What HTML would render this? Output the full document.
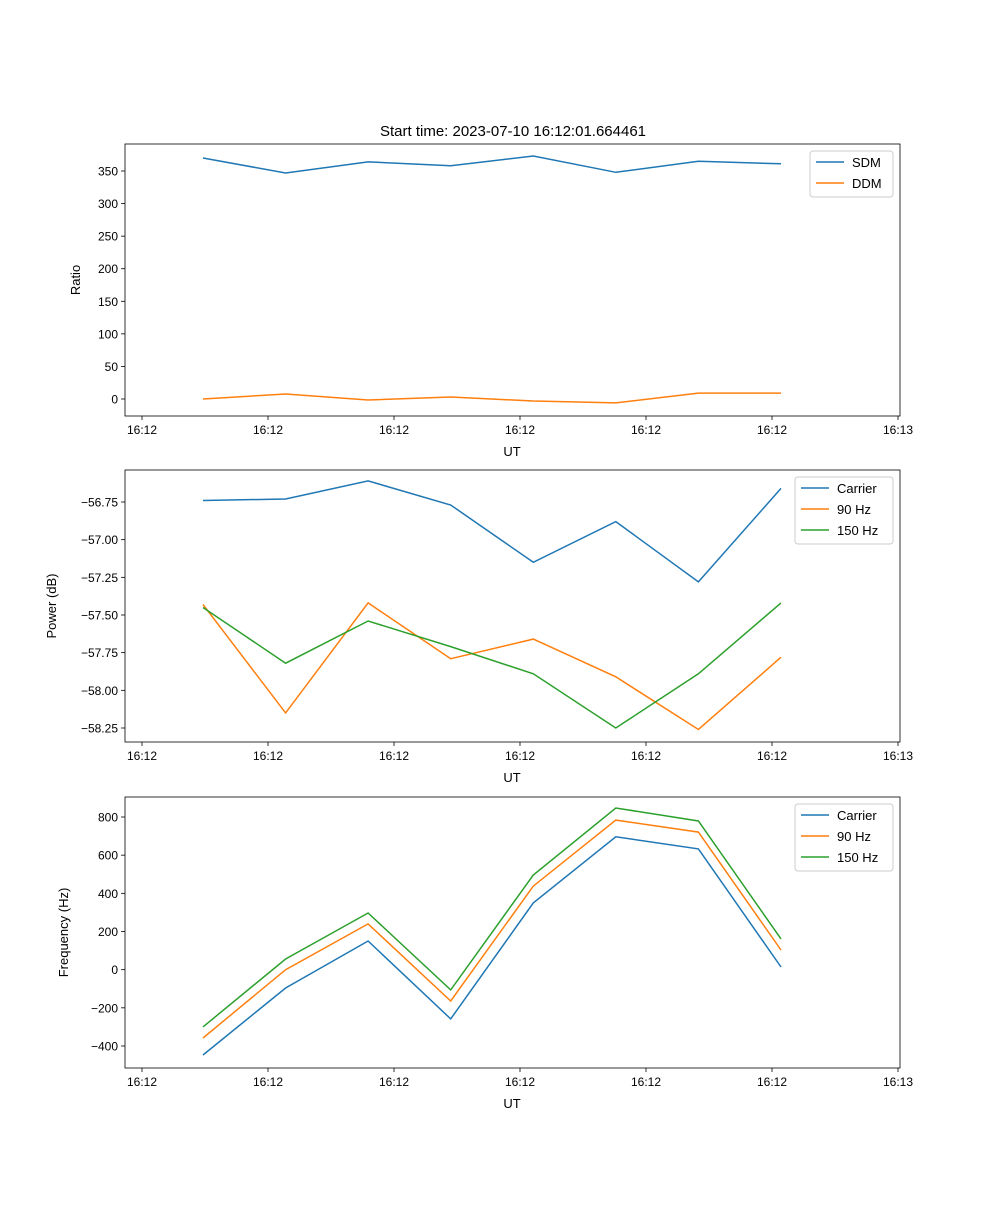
<!DOCTYPE html>
<html><head><meta charset="utf-8"><style>
body{margin:0;background:#fff}
svg{font-family:"Liberation Sans","DejaVu Sans",sans-serif}
</style></head><body>
<svg id="fig" width="1000" height="1200" xmlns="http://www.w3.org/2000/svg">
<text x="513" y="136" font-size="15" text-anchor="middle">Start time: 2023-07-10 16:12:01.664461</text>
</svg>
<script>
const xTickLabels=["16:12","16:12","16:12","16:12","16:12","16:12","16:13"];
const sdm=[370,347,364,358,373,348,365,361];
const ddm=[0,7.7,-1.5,3,-3,-6,9,9];
const pCarrier=[-56.74,-56.73,-56.61,-56.77,-57.15,-56.88,-57.28,-56.66];
const p90=[-57.43,-58.15,-57.42,-57.79,-57.66,-57.91,-58.26,-57.78];
const p150=[-57.45,-57.82,-57.54,-57.71,-57.89,-58.25,-57.89,-57.42];
const fCarrier=[-447,-96,150,-258,350,696,633,14];
const f90=[-358,0,240,-164,438,784,721,103];
const f150=[-300,56,297,-106,496,847,779,161];
const ticks1=[0,50,100,150,200,250,300,350];
const ticks2=[-56.75,-57.00,-57.25,-57.50,-57.75,-58.00,-58.25];
const ticks3=[-400,-200,0,200,400,600,800];
const C=['#1f77b4','#ff7f0e','#2ca02c'];
const svg=document.getElementById('fig');
const NS='http://www.w3.org/2000/svg';
function el(t,a,p){const e=document.createElementNS(NS,t);for(const k in a)e.setAttribute(k,a[k]);(p||svg).appendChild(e);return e;}
function xs(i){return 203+i*82.57;}
function xTick(j){return 142+j*126;}
function panel(name,top,bot,yv0,yp0,yv1,yp1,ticks,fmt,ylabel,series,labels,legW){
  const ys=v=>yp0+(v-yv0)*(yp1-yp0)/(yv1-yv0);
  const g=el('g',{},svg);
  
  
  series.forEach((s,k)=>{
    const pts=s.map((v,i)=>xs(i).toFixed(1)+','+ys(v).toFixed(1)).join(' ');
    const l=el('polyline',{points:pts,fill:'none',stroke:C[k],'stroke-width':1.5},g);
    
    
  });
  const r=el('rect',{x:125,y:top,width:775,height:bot-top,fill:'none',stroke:'#000','stroke-width':0.8},g);
  
  
  xTickLabels.forEach((t,j)=>{
    const x=xTick(j);
    el('line',{x1:x,x2:x,y1:bot,y2:bot+4,stroke:'#000','stroke-width':0.8},g);
    const tx=el('text',{x:x,y:bot+18,'font-size':12,'text-anchor':'middle'},g);tx.textContent=t;
    
    
  });
  const xl=el('text',{x:512,y:bot+40,'font-size':13,'text-anchor':'middle'},g);xl.textContent='UT';
  
  
  ticks.forEach(v=>{
    const y=ys(v);
    el('line',{x1:121,x2:125,y1:y,y2:y,stroke:'#000','stroke-width':0.8},g);
    const tx=el('text',{x:118,y:y+4.5,'font-size':12,'text-anchor':'end'},g);tx.textContent=fmt(v);
    
    
  });
  const my=(top+bot)/2;
  const yl=el('text',{x:0,y:0,'font-size':13,'text-anchor':'middle',transform:`translate(${ylabel[1]},${my}) rotate(-90)`},g);yl.textContent=ylabel[0];
  
  
  const lx=893-legW, ly=top+7, lh=4+labels.length*21;
  const lg=el('g',{},g);
  
  
  el('rect',{x:lx,y:ly,width:legW,height:lh,rx:3,fill:'#fff','fill-opacity':0.8,stroke:'#ccc'},lg);
  labels.forEach((t,k)=>{
    const yy=ly+11+k*21;
    el('line',{x1:lx+6,x2:lx+34,y1:yy,y2:yy,stroke:C[k],'stroke-width':1.5},lg);
    const tx=el('text',{x:lx+42,y:yy+5,'font-size':13},lg);tx.textContent=t;
    
    
  });
}
panel('ratio-panel',144,416,0,399,350,171,ticks1,v=>String(v),['Ratio',80],[sdm,ddm],['SDM','DDM'],83);
panel('power-panel',470,742,-56.75,502,-58.25,728,ticks2,v=>'\u2212'+Math.abs(v).toFixed(2),['Power (dB)',56],[pCarrier,p90,p150],['Carrier','90 Hz','150 Hz'],98);
panel('frequency-panel',797,1068,800,817,-400,1046,ticks3,v=>v<0?'\u2212'+Math.abs(v):String(v),['Frequency (Hz)',68],[fCarrier,f90,f150],['Carrier','90 Hz','150 Hz'],98);
</script>
</body></html>
